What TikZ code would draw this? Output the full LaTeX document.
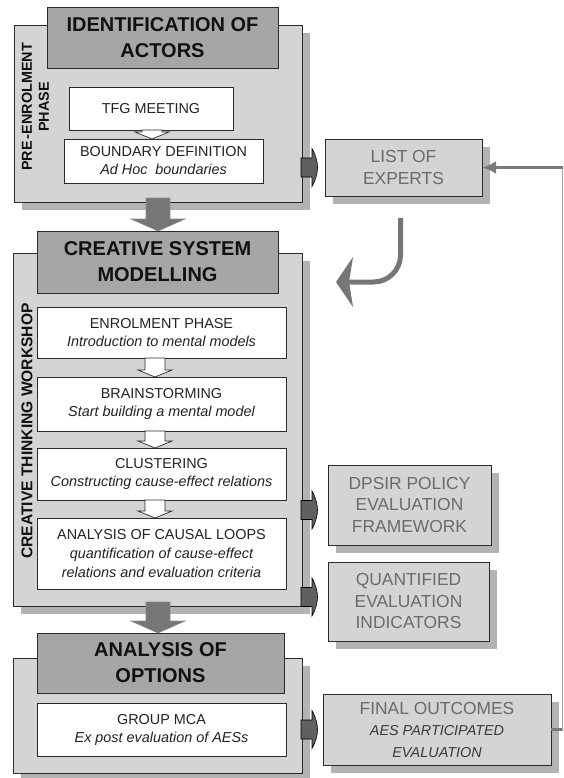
\documentclass[tikz,border=0pt]{standalone}
\usepackage{fontspec}
\setmainfont{Liberation Sans}
\usetikzlibrary{shadows,arrows.meta,calc}
\definecolor{panelgray}{HTML}{D4D4D4}
\definecolor{shadowgray}{HTML}{B3B3B3}
\definecolor{titlegray}{HTML}{A6A6A6}
\definecolor{edgegray}{HTML}{2B2B2B}
\definecolor{arrowgray}{HTML}{767676}
\definecolor{bigedge}{HTML}{8C8C8C}
\definecolor{darkarrow}{HTML}{606060}
\definecolor{outtext}{HTML}{6B6B6B}
\definecolor{subgray}{HTML}{3A3A3A}
\definecolor{titletext}{HTML}{111111}
\definecolor{stagetext}{HTML}{222222}
\definecolor{fbgray}{HTML}{7A7A7A}
\newcommand{\finalsub}{\fontsize{14.4}{18}\selectfont\itshape\color{subgray}}
\newcommand{\stagearrow}[3]{%
  \draw[draw=edgegray, fill=white, line width=0.7pt] let \p1=(#1.south), \p2=(#2.north) in
    (#3pt-10pt,\y1) -- (#3pt+10pt,\y1) -- (#3pt+10pt,\y2+7pt) -- (#3pt+17pt,\y2+7pt)
    -- (#3pt,\y2) -- (#3pt-17pt,\y2+7pt) -- (#3pt-10pt,\y2+7pt) -- cycle;}
\newcommand{\bigdown}[3]{%
  \draw[draw=bigedge, fill=arrowgray, line width=0.6pt] let \p1=(#1.south), \p2=(#2.north) in
    (#3pt-12pt,\y1+4pt) -- (#3pt+12pt,\y1+4pt) -- (#3pt+12pt,\y2+12pt) -- (#3pt+27pt,\y2+12pt)
    -- (#3pt,\y2) -- (#3pt-27pt,\y2+12pt) -- (#3pt-12pt,\y2+12pt) -- cycle;}
\newcommand{\sidearrow}[1]{%
  \draw[draw=black, fill=darkarrow, line width=0.6pt, shift={#1}]
    (-1,-9.5) -- (10,-9.5) -- (10,-19) .. controls (14,-12) and (15.5,-5) .. (15.5,0)
    .. controls (15.5,5) and (14,12) .. (10,19) -- (10,9.5) -- (-1,9.5) -- cycle;}
\begin{document}
\begin{tikzpicture}[x=1pt,y=-1pt,
  every node/.style={inner sep=0pt, outer sep=0pt},
  panelbox/.style={draw=edgegray, line width=0.8pt, fill=panelgray, anchor=north west,
    drop shadow={shadow xshift=8pt, shadow yshift=-8pt, fill=shadowgray, opacity=1}},
  titlebox/.style={draw=edgegray, line width=0.8pt, fill=titlegray, anchor=north west,
    align=center, text=titletext, font=\bfseries\fontsize{20}{26}\selectfont},
  stagebox/.style={draw=edgegray, line width=0.8pt, fill=white, anchor=north west,
    align=center, text=stagetext, font=\fontsize{14.4}{18}\selectfont},
  outbox/.style={draw=edgegray, line width=0.8pt, fill=panelgray, anchor=north west,
    align=center, text=outtext, font=\fontsize{17.4}{21.5}\selectfont,
    drop shadow={shadow xshift=8pt, shadow yshift=-8pt, fill=shadowgray, opacity=1}},
  sidelabel/.style={rotate=90, align=center, text=titletext,
    font=\bfseries\fontsize{14.4}{17}\selectfont}
]
\useasboundingbox (0,0) rectangle (564,778);

% panels
\node[panelbox, minimum width=288pt, minimum height=177pt] (P1) at (14,25) {};
\node[panelbox, minimum width=289pt, minimum height=353pt] (P2) at (13,253) {};
\node[panelbox, minimum width=289pt, minimum height=115pt] (P3) at (13,658) {};

% titles
\node[titlebox, minimum width=231pt, minimum height=61pt] (T1) at (47,7) {IDENTIFICATION OF\\ACTORS};
\node[titlebox, minimum width=241pt, minimum height=62pt] (T2) at (37,231) {CREATIVE SYSTEM\\MODELLING};
\node[titlebox, minimum width=247pt, minimum height=60pt] (T3) at (37,633) {ANALYSIS OF\\OPTIONS};

% stage boxes
\node[stagebox, minimum width=164pt, minimum height=43pt] (S1) at (69,87) {TFG MEETING};
\node[stagebox, minimum width=199pt, minimum height=44pt] (S2) at (64,139) {BOUNDARY DEFINITION\\\itshape Ad Hoc\ \ boundaries};
\node[stagebox, minimum width=249pt, minimum height=51pt] (S3) at (37,307) {ENROLMENT PHASE\\\itshape Introduction to mental models};
\node[stagebox, minimum width=249pt, minimum height=54pt] (S4) at (37,377) {BRAINSTORMING\\\itshape Start building a mental model};
\node[stagebox, minimum width=249pt, minimum height=52pt] (S5) at (37,448) {CLUSTERING\\\itshape Constructing cause-effect relations};
\node[stagebox, minimum width=249pt, minimum height=71pt, font=\fontsize{14.4}{19.3}\selectfont] (S6) at (37,518) {ANALYSIS OF CAUSAL LOOPS\\\itshape quantification of cause-effect\\\itshape relations and evaluation criteria};
\node[stagebox, minimum width=249pt, minimum height=53pt] (S7) at (37,703) {GROUP MCA\\\itshape Ex post evaluation of AESs};

% white arrows between stages
\stagearrow{S1}{S2}{152}
\stagearrow{S3}{S4}{155}
\stagearrow{S4}{S5}{155}
\stagearrow{S5}{S6}{155}

% big down arrows
\bigdown{P1}{T2}{158}
\bigdown{P2}{T3}{158}

% output boxes
\node[outbox, minimum width=157pt, minimum height=57pt] (LIST) at (325,139) {LIST OF\\EXPERTS};
\node[outbox, minimum width=163pt, minimum height=80pt] (DPSIR) at (328,465) {DPSIR POLICY\\EVALUATION\\FRAMEWORK};
\node[outbox, minimum width=161pt, minimum height=79pt] (QUANT) at (328,562) {QUANTIFIED\\EVALUATION\\INDICATORS};
\node[outbox, minimum width=228pt, minimum height=71pt] (FINAL) at (323,694) {FINAL OUTCOMES\\{\finalsub AES PARTICIPATED}\\{\finalsub EVALUATION}};

% side arrows
\sidearrow{(P1.east |- LIST.center)}
\sidearrow{(P2.east |- 0,510)}
\sidearrow{(P2.east |- 0,597)}
\sidearrow{(P3.east |- FINAL.center)}

% feedback line
\coordinate (fb1) at (FINAL.east -| 562.5,0);
\coordinate (fb2) at (LIST.east -| 562.5,0);
\draw[fbgray, line width=3pt] (FINAL.east) -- (fb1);
\draw[fbgray!70, line width=1.5pt] (fb1) -- (fb2);
\draw[fbgray, line width=3pt, -{Latex[length=14pt,width=13pt]}] (fb2) -- (LIST.east);

% curved arrow
\coordinate (cstart) at ($(LIST.south)+(-3,22)$);
\coordinate (cend) at (336,282);
\draw[arrowgray, line width=5pt, rounded corners=27pt, -{Stealth[length=17pt,width=50pt,inset=4pt]}] (cstart) |- (cend);

% side labels
\node[sidelabel] (L1) at (35.5,107) {PRE\,-ENROLMENT\\PHASE};
\node[sidelabel, font=\bfseries\fontsize{15.6}{18}\selectfont] (L2) at (27,431) {CREATIVE THINKING WORKSHOP};
\end{tikzpicture}
\end{document}
